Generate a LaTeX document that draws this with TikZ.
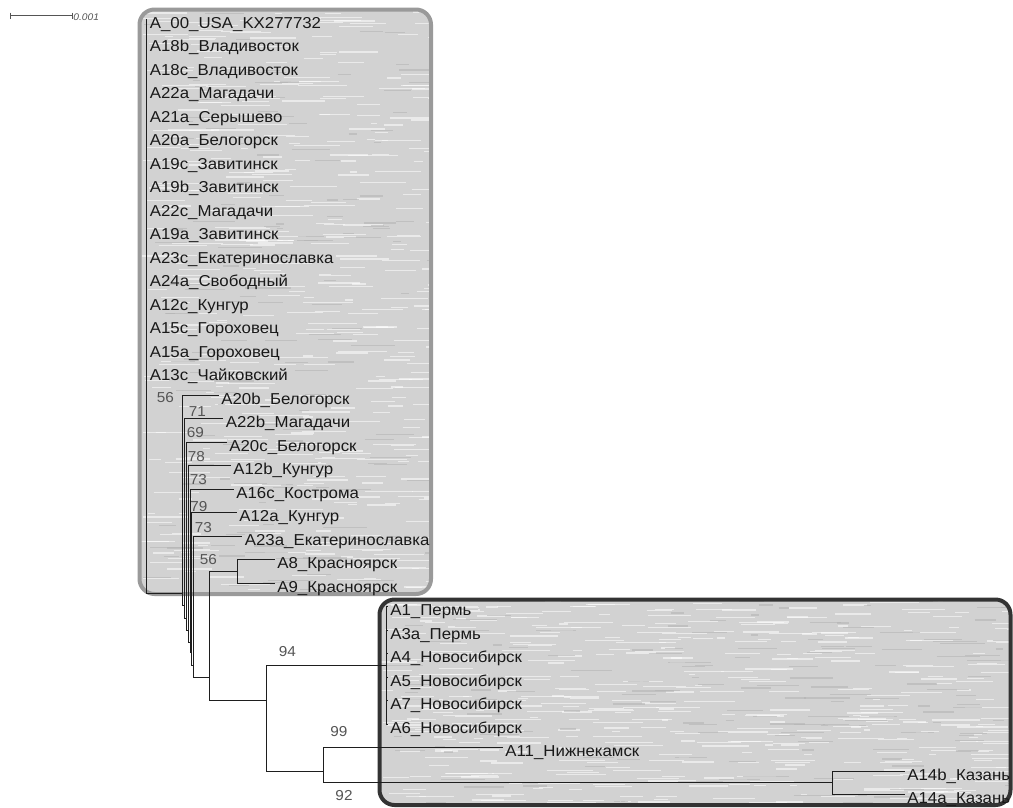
\documentclass[tikz,border=0pt]{standalone}
\usepackage{fontspec}
\setmainfont[FakeStretch=1.065]{Liberation Sans}
\definecolor{treeline}{HTML}{1E1E1E}
\definecolor{bootgray}{HTML}{555555}
\definecolor{boxfill}{HTML}{D2D2D2}
\definecolor{boxgray}{HTML}{9A9A9A}
\definecolor{boxdark}{HTML}{333333}
\tikzset{
  leaf/.style={anchor=west, inner xsep=2.5pt, inner ysep=0pt, text height=18.3pt,
    text depth=0pt, font=\fontsize{15.8}{18}\selectfont, text=black!90},
  boot/.style={inner sep=0pt, font=\fontsize{14.4}{16}\selectfont, text=bootgray},
  cladebox/.style={line width=4pt, rounded corners=15pt},
  streak/.style={line width=1.2pt, opacity=0.55}
}
\begin{document}
\begin{tikzpicture}[x=1pt, y=-1pt, line width=0.8pt]
      \useasboundingbox (0,0) rectangle (1013,807);
      \pgfmathsetseed{11}
      \foreach \bx/\by/\bw/\bh in {139.5/9.5/291.5/584.5, 379.5/599.5/631/205.5}{
        \begin{scope}
          \clip[rounded corners=15pt] (\bx,\by) rectangle ++(\bw,\bh);
          \fill[boxfill] (\bx,\by) rectangle ++(\bw,\bh);
          \foreach \k in {1,...,450}{
            \draw[streak, white] ({\bx+\bw*rnd},{\by+\bh*rnd}) -- ++({6+45*rnd},0);
          }
          \foreach \k in {1,...,150}{
            \draw[streak, gray!60] ({\bx+\bw*rnd},{\by+\bh*rnd}) -- ++({6+40*rnd},0);
          }
        \end{scope}
      }
      \draw[cladebox, draw=boxgray] (139.5,9.5) rectangle (431,594);
      \draw[cladebox, draw=boxdark] (379.5,599.5) rectangle (1010.5,805);
      \coordinate (sb0) at (10,15.5);
      \coordinate (sb1) at (72,15.5);
      \node[anchor=west, inner sep=1pt, font=\itshape\fontsize{9.6}{11}\selectfont, text=bootgray]
        (sbl) at (72,17) {0.001};
      \draw[bootgray] (sb0) -- (sb1) (sb0) ++(0,-3) -- ++(0,6) (sb1) ++(0,-3) -- ++(0,6);
      \begin{scope}[every node/.style={leaf}]
      \draw
        (147,19) node (a00){A\_00\_USA\_KX277732}
        (147,42.5) node (a18b){A18b\_Владивосток}
        (147,66) node (a18c){A18c\_Владивосток}
        (147,89.5) node (a22a){A22a\_Магадачи}
        (147,113) node (a21a){A21a\_Серышево}
        (147,136.5) node (a20a){A20a\_Белогорск}
        (147,160) node (a19c){A19c\_Завитинск}
        (147,183.5) node (a19b){A19b\_Завитинск}
        (147,207) node (a22c){A22c\_Магадачи}
        (147,230.5) node (a19a){A19a\_Завитинск}
        (147,254) node (a23c){A23c\_Екатеринославка}
        (147,277.5) node (a24a){A24a\_Свободный}
        (147,301) node (a12c){A12c\_Кунгур}
        (147,324.5) node (a15c){A15c\_Гороховец}
        (147,348) node (a15a){A15a\_Гороховец}
        (147,371.5) node (a13c){A13c\_Чайковский}
        (218.5,395) node (a20b){A20b\_Белогорск}
        (223,418.5) node (a22b){A22b\_Магадачи}
        (226.5,442) node (a20c){A20c\_Белогорск}
        (230.5,465.5) node (a12b){A12b\_Кунгур}
        (233.5,489) node (a16c){A16c\_Кострома}
        (236.5,512.5) node (a12a){A12a\_Кунгур}
        (242,536) node (a23a){A23a\_Екатеринославка}
        (274.5,559.5) node (a8){A8\_Красноярск}
        (274.5,583) node (a9){A9\_Красноярск}
        (387.5,606.5) node (a1){A1\_Пермь}
        (387.5,630) node (a3a){A3a\_Пермь}
        (387.5,653.5) node (a4){A4\_Новосибирск}
        (387.5,677) node (a5){A5\_Новосибирск}
        (387.5,700.5) node (a7){A7\_Новосибирск}
        (387.5,724) node (a6){A6\_Новосибирск}
        (502.5,747.5) node (a11){A11\_Нижнекамск}
        (904.5,771) node (a14b){A14b\_Казань}
        (904.5,794.5) node (a14a){A14a\_Казань};
      \end{scope}
      \coordinate (n0) at (146,19);
      \coordinate (n1) at (182,593);
      \coordinate (n2) at (184,605);
      \coordinate (n3) at (186,618);
      \coordinate (n4) at (188,630);
      \coordinate (n5) at (190,642);
      \coordinate (n6) at (191.5,652);
      \coordinate (n7) at (193,665);
      \coordinate (n8) at (209,677);
      \coordinate (n89) at (237,571.25);
      \coordinate (n94) at (266,700);
      \coordinate (n16) at (386,665);
      \coordinate (n11) at (323,771);
      \coordinate (n14) at (832,782.75);
      \begin{scope}[every node/.style={boot}]
      \draw
        (165.5,398) node (b1){56}
        (197.5,411.5) node (b2){71}
        (195.5,432.5) node (b3){69}
        (196.5,457) node (b4){78}
        (198.5,480) node (b5){73}
        (199,506.5) node (b6){79}
        (203.5,527.5) node (b7){73}
        (208.5,560) node (b8){56}
        (287.5,652) node (b9){94}
        (339,732) node (b10){99}
        (344,795.5) node (b11){92};
      \end{scope}
      \begin{scope}[treeline]
        \draw (n0) |- (a00);
        \draw (n0) |- (a18b);
        \draw (n0) |- (a18c);
        \draw (n0) |- (a22a);
        \draw (n0) |- (a21a);
        \draw (n0) |- (a20a);
        \draw (n0) |- (a19c);
        \draw (n0) |- (a19b);
        \draw (n0) |- (a22c);
        \draw (n0) |- (a19a);
        \draw (n0) |- (a23c);
        \draw (n0) |- (a24a);
        \draw (n0) |- (a12c);
        \draw (n0) |- (a15c);
        \draw (n0) |- (a15a);
        \draw (n0) |- (a13c);
        \draw (n0) |- (n1);
        \draw (n1) |- (a20b);
        \draw (n1) |- (n2);
        \draw (n2) |- (a22b);
        \draw (n2) |- (n3);
        \draw (n3) |- (a20c);
        \draw (n3) |- (n4);
        \draw (n4) |- (a12b);
        \draw (n4) |- (n5);
        \draw (n5) |- (a16c);
        \draw (n5) |- (n6);
        \draw (n6) |- (a12a);
        \draw (n6) |- (n7);
        \draw (n7) |- (a23a);
        \draw (n7) |- (n8);
        \draw (n8) |- (n89);
        \draw (n8) |- (n94);
        \draw (n89) |- (a8);
        \draw (n89) |- (a9);
        \draw (n94) |- (n16);
        \draw (n94) |- (n11);
        \draw (n16) |- (a1);
        \draw (n16) |- (a3a);
        \draw (n16) |- (a4);
        \draw (n16) |- (a5);
        \draw (n16) |- (a7);
        \draw (n16) |- (a6);
        \draw (n11) |- (a11);
        \draw (n11) |- (n14);
        \draw (n14) |- (a14b);
        \draw (n14) |- (a14a);
      \end{scope}
    \end{tikzpicture}
\end{document}
